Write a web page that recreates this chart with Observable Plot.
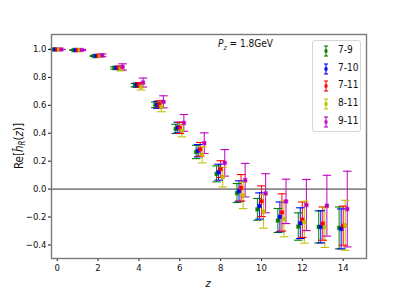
<!DOCTYPE html>
<html>
<head>
<meta charset="utf-8">
<script src="https://cdn.jsdelivr.net/npm/d3@7"></script>
<script src="https://cdn.jsdelivr.net/npm/@observablehq/plot@0.6"></script>
<style>
  html, body { margin: 0; padding: 0; background: #fff; }
  #wrap { position: relative; width: 407px; height: 291px; font-family: "DejaVu Sans Condensed", "DejaVu Sans", sans-serif; }
  #title { position: absolute; left: 218px; top: 38px; font-size: 10px; color: #111; white-space: nowrap; }
  #legend { position: absolute; left: 312px; top: 40px; width: 49px; height: 92px; border: 1px solid #d6d6d6; border-radius: 3px; background: rgba(255,255,255,0.85); box-sizing: border-box; }
  .item { position: absolute; left: 0; height: 18px; width: 49px; font-size: 10px; color: #111; }
  .item svg { position: absolute; left: 8px; top: 1px; }
  .item span { position: absolute; left: 25px; top: 1px; }
</style>
</head>
<body>
<div id="wrap"><div id="chart"></div><div id="title"></div><div id="legend"></div></div>
<script>
// ---- data ----
const zValues = [0, 1, 2, 3, 4, 5, 6, 7, 8, 9, 10, 11, 12, 13, 14];
const seriesNames = ["7-9", "7-10", "7-11", "8-11", "9-11"];
const val_7_9  = [1.0, 0.995, 0.953, 0.868, 0.744, 0.603, 0.431, 0.266, 0.109, -0.028, -0.145, -0.225, -0.268, -0.271, -0.278];
const err_7_9  = [0.001, 0.002, 0.004, 0.008, 0.012, 0.020, 0.033, 0.048, 0.057, 0.068, 0.078, 0.086, 0.098, 0.115, 0.150];
const val_7_10 = [1.0, 0.995, 0.954, 0.868, 0.744, 0.603, 0.441, 0.275, 0.121, -0.014, -0.121, -0.199, -0.244, -0.270, -0.285];
const err_7_10 = [0.001, 0.002, 0.005, 0.010, 0.015, 0.025, 0.038, 0.044, 0.057, 0.073, 0.094, 0.107, 0.110, 0.115, 0.143];
const val_7_11 = [1.0, 0.995, 0.955, 0.870, 0.746, 0.608, 0.438, 0.285, 0.143, 0.009, -0.087, -0.167, -0.219, -0.247, -0.262];
const err_7_11 = [0.001, 0.002, 0.005, 0.010, 0.017, 0.025, 0.040, 0.049, 0.060, 0.095, 0.110, 0.133, 0.127, 0.119, 0.140];
const val_8_11 = [1.0, 0.995, 0.952, 0.860, 0.732, 0.589, 0.418, 0.245, 0.085, -0.045, -0.160, -0.214, -0.237, -0.273, -0.259];
const err_8_11 = [0.001, 0.002, 0.006, 0.013, 0.022, 0.035, 0.044, 0.057, 0.070, 0.095, 0.120, 0.128, 0.150, 0.145, 0.179];
const val_9_11 = [1.0, 0.996, 0.958, 0.875, 0.763, 0.625, 0.474, 0.329, 0.188, 0.064, -0.030, -0.088, -0.114, -0.119, -0.143];
const err_9_11 = [0.001, 0.004, 0.010, 0.022, 0.032, 0.043, 0.060, 0.074, 0.095, 0.120, 0.140, 0.159, 0.183, 0.218, 0.271];
const xTicks = [0, 2, 4, 6, 8, 10, 12, 14];
const yTicks = [-0.4, -0.2, 0.0, 0.2, 0.4, 0.6, 0.8, 1.0];

// ---- build table ----
const allVals = [val_7_9, val_7_10, val_7_11, val_8_11, val_9_11];
const allErrs = [err_7_9, err_7_10, err_7_11, err_8_11, err_9_11];
const colors = ["#008000", "#0000ff", "#ff0000", "#bfbf00", "#c000c0"];
const rows = [];
seriesNames.forEach((s, i) => {
  const shift = (i - 2) * 0.1;
  zValues.forEach((z, j) => {
    rows.push({series: s, z: z + shift, v: allVals[i][j], lo: allVals[i][j] - allErrs[i][j], hi: allVals[i][j] + allErrs[i][j]});
  });
});

const cap = {draw(ctx, size) { const w = Math.sqrt(size); ctx.moveTo(-w, 0); ctx.lineTo(w, 0); }};

const chart = Plot.plot({
  width: 407, height: 291,
  marginTop: 34, marginRight: 41, marginBottom: 33, marginLeft: 51,
  style: {fontFamily: '"DejaVu Sans Condensed", "DejaVu Sans", sans-serif', fontSize: "9.5px", color: "#111", background: "transparent"},
  x: {domain: [-0.28, 15.14]},
  y: {domain: [-0.497, 1.107]},
  color: {domain: seriesNames, range: colors},
  marks: [
    Plot.ruleY([0], {stroke: "#8a8a8a", strokeWidth: 1.6}),
    Plot.ruleX(rows, {x: "z", y1: "lo", y2: "hi", stroke: "series", strokeWidth: 1.1, strokeOpacity: 0.9}),
    Plot.dot(rows, {x: "z", y: "hi", symbol: cap, r: 2.4, stroke: "series", strokeWidth: 1.1, fill: "none"}),
    Plot.dot(rows, {x: "z", y: "lo", symbol: cap, r: 2.4, stroke: "series", strokeWidth: 1.1, fill: "none"}),
    Plot.dot(rows, {x: "z", y: "v", symbol: "square", r: 2, fill: "series", stroke: "series", strokeOpacity: 0.35, strokeWidth: 1.2}),
    Plot.axisX({ticks: xTicks, tickSize: 3, tickPadding: 3, tickFormat: d => String(d), label: null}),
    Plot.axisY({ticks: yTicks, tickSize: 3, tickPadding: 2, tickFormat: d3.format(".1f"), label: null}),
    Plot.frame({stroke: "#7a7a7a", strokeWidth: 1.4})
  ]
});
document.getElementById("chart").appendChild(chart);

// axis labels with math-style tspans
const svg = d3.select(chart);
const yl = svg.append("text")
  .attr("transform", "translate(23,146) rotate(-90)")
  .attr("text-anchor", "middle")
  .attr("font-size", "11.5px").attr("fill", "#111");
yl.append("tspan").text("Re[");
yl.append("tspan").attr("font-style", "italic").text("h\u0303");
yl.append("tspan").attr("font-style", "italic").attr("font-size", "8px").attr("dy", "2").text("R");
yl.append("tspan").attr("dy", "-2").text("(");
yl.append("tspan").attr("font-style", "italic").text("z");
yl.append("tspan").text(")]");

svg.append("text")
  .attr("x", 208).attr("y", 287)
  .attr("text-anchor", "middle").attr("font-style", "italic")
  .attr("font-size", "11px").attr("fill", "#111")
  .text("z");

// title
document.getElementById("title").innerHTML = '<i>P</i><sub style="font-size:7px;font-style:italic">z</sub> = 1.8GeV';

// legend
const leg = document.getElementById("legend");
seriesNames.forEach((s, i) => {
  const d = document.createElement("div");
  d.className = "item";
  d.style.top = (2 + i * 17.7) + "px";
  const c = colors[i];
  d.innerHTML = `<svg width="10" height="14"><line x1="5" y1="2" x2="5" y2="12" stroke="${c}" stroke-width="1.1"/><line x1="3" y1="2" x2="7" y2="2" stroke="${c}" stroke-width="1.1"/><line x1="3" y1="12" x2="7" y2="12" stroke="${c}" stroke-width="1.1"/><rect x="3.5" y="5.5" width="3" height="3" fill="${c}"/></svg><span>${s}</span>`;
  leg.appendChild(d);
});
</script>
</body>
</html>
